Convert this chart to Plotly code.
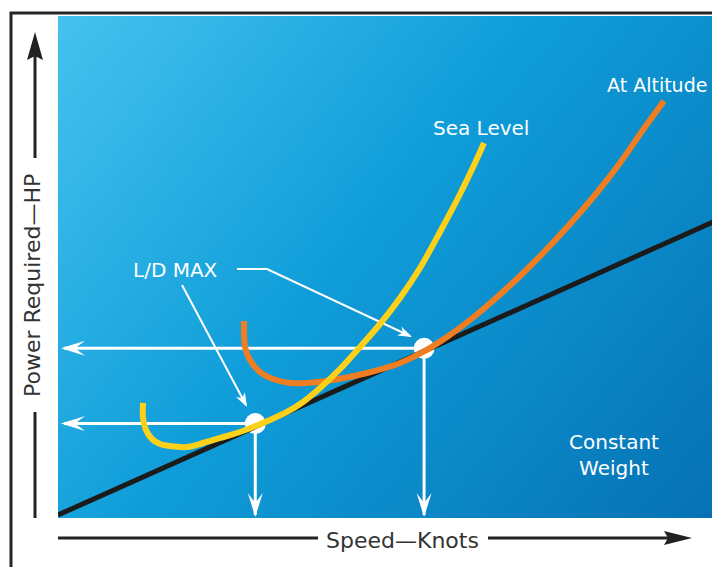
import math
import plotly.graph_objects as go

# chart units: 0-100 on both axes (no scale printed on the original)
sea_level_speed = [12.84, 12.84, 13.29, 14.20, 15.41, 16.92, 19.49, 21.90, 24.47, 27.04, 29.46,
                   32.02, 34.59, 37.01, 39.58, 42.60, 45.62, 48.64, 51.66, 54.68, 57.70,
                   60.73, 62.99, 64.35]
sea_level_power = [22.91, 19.92, 17.53, 15.74, 14.74, 14.34, 14.14, 14.94, 15.94, 16.93, 18.13,
                   19.52, 21.12, 23.11, 25.90, 29.68, 34.06, 38.65, 43.82, 49.80, 56.97,
                   64.54, 70.72, 74.70]

altitude_speed = [28.10, 28.25, 29.00, 30.51, 32.48, 35.05, 37.61, 41.54, 46.68, 51.66, 55.14,
                  58.76, 62.24, 66.01, 69.79, 73.56, 77.34, 81.12, 84.89, 88.67, 91.54]
altitude_power = [39.24, 34.06, 31.47, 29.08, 27.69, 26.89, 26.89, 27.49, 28.88, 30.88, 33.07,
                  36.06, 39.44, 43.63, 48.21, 53.19, 58.57, 64.34, 70.72, 77.89, 83.07]

tangent_speed = [0, 100]
tangent_power = [0.6, 59.6]

# L/D max points (sea level, altitude)
ld_max_speed = [29.8, 55.3]
ld_max_power = [18.8, 33.8]

# plot area in canvas pixels; the page puts the figure 8px in from the corner
OFF = 8
PL, PT, PW, PH = 58, 16, 662, 502      # 0-100 units span PW x PH pixels
PB = PT + PH
PW_FIG = 720 - 2 * OFF - (PL - OFF)    # what fits in the window without overflow
X_MAX = 100 * PW_FIG / PW


def paper(px, py):
    return (px - PL) / PW_FIG, (PB - py) / PH


def canvas(x, y):
    return PL + x * PW / 100, PB - y * PH / 100


def data(px, py):
    return (px - PL) * 100 / PW, (PB - py) * 100 / PH


def arrow_head(tip, direction, length, half_width, notch, color):
    tx, ty = tip
    dx, dy = direction
    n = math.hypot(dx, dy)
    dx, dy = dx / n, dy / n
    nx, ny = -dy, dx
    pts = [
        (tx, ty),
        (tx - length * dx + half_width * nx, ty - length * dy + half_width * ny),
        (tx - (length - notch) * dx, ty - (length - notch) * dy),
        (tx - length * dx - half_width * nx, ty - length * dy - half_width * ny),
    ]
    path = "M " + " L ".join(
        "%.5f,%.5f" % paper(x, y) for x, y in pts) + " Z"
    return dict(type="path", xref="paper", yref="paper", path=path,
                fillcolor=color, line=dict(width=0), layer="above")


def segment(p0, p1, color, width):
    x0, y0 = paper(*p0)
    x1, y1 = paper(*p1)
    return dict(type="line", xref="paper", yref="paper", x0=x0, y0=y0, x1=x1, y1=y1,
                line=dict(color=color, width=width), layer="above")


fig = go.Figure()

# gradient background of the plot area
fig.add_trace(go.Heatmap(
    x=[0, 100], y=[0, 100],
    z=[[0.38, 1.0], [0.0, 0.62]],
    zsmooth="best",
    colorscale=[[0, "#45c2ee"], [0.45, "#0f9dd9"], [1, "#0671b3"]],
    showscale=False, hoverinfo="skip",
))

# white guide lines from the L/D max points to the axes
left_x = data(64, 0)[0]
bottom_y = data(0, 515)[1]
gx, gy = [], []
for sx, sp in zip(ld_max_speed, ld_max_power):
    gx += [sx, left_x, None, sx, sx, None]
    gy += [sp, sp, None, sp, bottom_y, None]
fig.add_trace(go.Scatter(x=gx, y=gy, mode="lines", line=dict(color="white", width=3),
                         hoverinfo="skip"))

# leader lines from the "L/D MAX" label
leader_up = [(237, 269), (267, 269), (410, 336)]
leader_low = [(182, 285), (246, 405)]
lx, ly = [], []
for pts in (leader_up, leader_low):
    for p in pts:
        d = data(*p)
        lx.append(d[0])
        ly.append(d[1])
    lx.append(None)
    ly.append(None)
fig.add_trace(go.Scatter(x=lx, y=ly, mode="lines", line=dict(color="white", width=2),
                         hoverinfo="skip"))

fig.add_trace(go.Scatter(x=ld_max_speed, y=ld_max_power, mode="markers",
                         marker=dict(color="white", size=21), hoverinfo="skip"))

fig.add_trace(go.Scatter(x=tangent_speed, y=tangent_power, mode="lines",
                         line=dict(color="#1b1b1b", width=5), name="Tangent"))
fig.add_trace(go.Scatter(x=altitude_speed, y=altitude_power, mode="lines",
                         line=dict(color="#ef7d22", width=6, shape="spline", smoothing=0.8),
                         name="At Altitude"))
fig.add_trace(go.Scatter(x=sea_level_speed, y=sea_level_power, mode="lines",
                         line=dict(color="#fdd01a", width=6, shape="spline", smoothing=0.8),
                         name="Sea Level"))

shapes = []
# arrowheads on the white guide lines
for sx, sp in zip(ld_max_speed, ld_max_power):
    cx, cy = canvas(sx, sp)
    shapes.append(arrow_head((61, cy), (-1, 0), 24, 7.5, 10, "white"))
    shapes.append(arrow_head((cx, 517), (0, 1), 24, 7.5, 10, "white"))
# leader arrowheads
shapes.append(arrow_head((412, 337), (412 - 267, 337 - 269), 14, 5, 4, "white"))
shapes.append(arrow_head((247, 407), (247 - 182, 407 - 285), 14, 5, 4, "white"))

# frame
fx0, fy0 = paper(11, 580)
fx1, fy1 = paper(11, 13)
fx2, fy2 = paper(730, 13)
shapes.append(dict(type="path", xref="paper", yref="paper",
                   path="M %.5f,%.5f L %.5f,%.5f L %.5f,%.5f" % (fx0, fy0, fx1, fy1, fx2, fy2),
                   line=dict(color="#262626", width=3), layer="above"))

# axis arrows
axis_col = "#222222"
shapes.append(segment((58, 538), (318, 538), axis_col, 3))
shapes.append(segment((488, 538), (668, 538), axis_col, 3))
shapes.append(arrow_head((692, 538), (1, 0), 28, 7, 4, axis_col))
shapes.append(segment((35, 158), (35, 56), axis_col, 3))
shapes.append(arrow_head((35, 32), (0, -1), 28, 8, 4, axis_col))
shapes.append(segment((35, 412), (35, 518), axis_col, 3))

white_font = dict(family="DejaVu Sans", size=20, color="white")
annotations = []


def label(text, px, py, font, xanchor="center", textangle=0):
    x, y = paper(px, py)
    annotations.append(dict(text=text, x=x, y=y, xref="paper", yref="paper",
                            xanchor=xanchor, yanchor="middle", showarrow=False,
                            font=font, textangle=textangle))


label("L/D MAX", 175, 270, white_font)
label("Sea Level", 481, 128, white_font)
label("At Altitude", 709, 85, dict(white_font, size=19), xanchor="right")
label("Constant<br>Weight", 614, 455, white_font)
label("Speed—Knots", 403, 540, dict(family="DejaVu Sans", size=22, color="#333333"))
label("Power Required—HP", 32, 286, dict(family="DejaVu Sans", size=22, color="#333333"),
      textangle=-90)

# body has an 8px margin, so the figure is laid out 8px in from the corner
fig_w, fig_h = 720 - 2 * OFF, 575 - 2 * OFF
fig.update_layout(
    width=fig_w, height=fig_h,
    margin=dict(l=PL - OFF, r=0, t=PT - OFF, b=fig_h - (PB - OFF), pad=0),
    paper_bgcolor="white",
    plot_bgcolor="white",
    showlegend=False,
    xaxis=dict(range=[0, X_MAX], visible=False, fixedrange=True),
    yaxis=dict(range=[0, 100], visible=False, fixedrange=True),
    shapes=shapes,
    annotations=annotations,
)

fig.write_html("out.html")
